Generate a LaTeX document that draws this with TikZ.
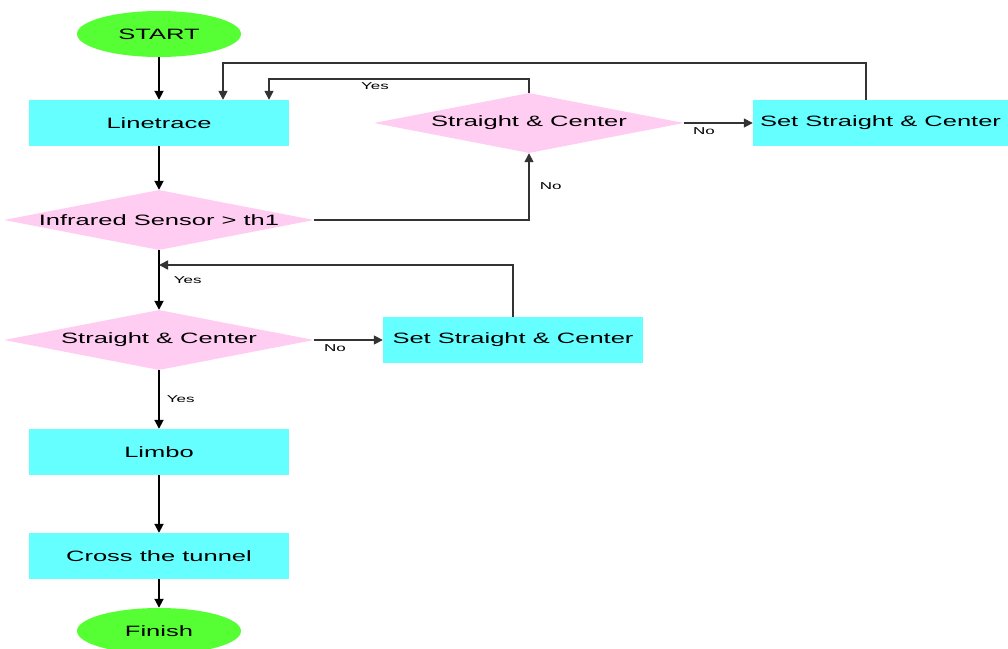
\documentclass[tikz,border=0pt]{standalone}
\usepackage{fontspec}
\setmainfont{Liberation Sans}[FakeStretch=1.7]
\usetikzlibrary{shapes.geometric,arrows.meta}
\definecolor{boxc}{HTML}{66FFFF}
\definecolor{decc}{HTML}{FFCCF2}
\definecolor{termc}{HTML}{55FF33}
\tikzset{
  proc/.style={rectangle, fill=boxc, minimum width=260pt, minimum height=46pt, inner sep=0pt, font=\fontsize{15}{18}\selectfont},
  dec/.style={diamond, fill=decc, minimum width=310pt, minimum height=60pt, shape aspect=5, inner sep=0pt, font=\fontsize{15}{18}\selectfont},
  term/.style={ellipse, fill=termc, minimum width=164pt, minimum height=46pt, inner sep=0pt, font=\fontsize{15}{18}\selectfont},
  flow/.style={line width=1.8pt, -{Triangle[length=9pt,width=9pt]}},
  back/.style={line width=1.5pt, draw=black!80, -{Triangle[length=9pt,width=9pt]}},
  lbl/.style={font=\fontsize{10}{12}\selectfont, inner sep=0pt}
}
\begin{document}
\begin{tikzpicture}[x=1pt,y=-1pt]
\useasboundingbox (0,0) rectangle (1008,648);
\clip (0,0) rectangle (1008,648);
\node[term] (start) at (159,34) {START};
\node[proc] (lt) at (159,123) {Linetrace};
\node[dec] (ir) at (159,220) {Infrared Sensor > th1};
\node[dec] (sc1) at (529,123) {Straight \& Center};
\node[proc, minimum width=255pt] (set1) at (880.5,123) {Set Straight \& Center};
\node[dec] (sc2) at (159,340) {Straight \& Center};
\node[proc] (set2) at (513,340) {Set Straight \& Center};
\node[proc] (limbo) at (159,452) {Limbo};
\node[proc] (cross) at (159,556) {Cross the tunnel};
\node[term] (fin) at (159,631) {Finish};
\coordinate (c1) at (269,79);
\coordinate (c2) at (223,63);
\coordinate (j) at (159,265);
% main flow
\draw[flow] (start) -- (lt);
\draw[flow] (lt) -- (ir);
\draw[flow] (ir) -- (sc2) node[lbl, pos=0.5, anchor=west, xshift=14pt] {Yes};
\draw[flow] (sc2) -- (limbo) node[lbl, pos=0.5, anchor=west, xshift=7pt] {Yes};
\draw[flow] (limbo) -- (cross);
\draw[flow] (cross) -- (fin);
% upper loop
\draw[back] (ir.east) -| (sc1.south) node[lbl, pos=0.75, anchor=west, xshift=10pt] {No};
\draw[back] (sc1.north) |- (c1) -- (c1 |- lt.north);
\node[lbl] (yes1) at (375,86) {Yes};
\draw[back] (sc1.east) -- (set1.west);
\node[lbl] (no1) at (704,131) {No};
\draw[back] (set1.north -| 866,0) |- (c2) -- (c2 |- lt.north);
% lower loop
\draw[back] (sc2.east) -- (set2.west);
\node[lbl] (no2) at (335,348) {No};
\draw[back] (set2.north) |- (j);
\end{tikzpicture}
\end{document}
